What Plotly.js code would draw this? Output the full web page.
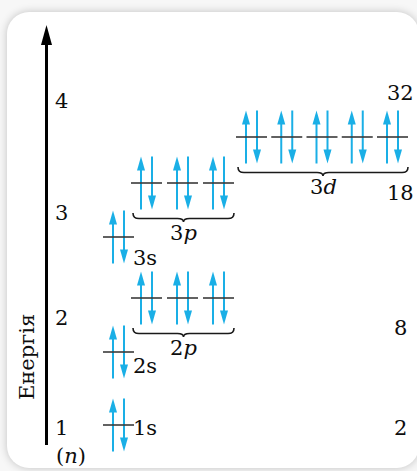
<!DOCTYPE html>
<html><head><meta charset="utf-8">
<script src="https://cdn.plot.ly/plotly-3.0.1.min.js"></script>
<style>
html,body{margin:0;padding:0;background:#f7f7f7;width:417px;height:471px;overflow:hidden}
#card{position:absolute;left:7px;top:12px;width:412px;height:456px;background:#fff;border-radius:22px;box-shadow:0 0 9px rgba(0,0,0,0.22)}
#chart{position:absolute;left:0;top:0;width:417px;height:471px}
</style></head><body>
<div id="card"></div><div id="chart"></div>
<script>
// ---- data (energy in arbitrary units) ----
const orbitals       = ['1s', '2s', '2p', '3s', '3p', '3d'];
const orbitalLabels  = ['1s', '2s', '2<i>p</i>', '3s', '3<i>p</i>', '3<i>d</i>'];
const orbitalEnergy  = [46, 119, 173, 234, 288, 334];
const orbitalBoxes   = [1, 1, 3, 1, 3, 5];
const electronsPerBox= [2, 2, 2, 2, 2, 2];
const shellN         = ['1', '2', '3', '4'];
const shellEnergy    = [43, 153, 258, 370];
const shellCapacity  = ['2', '8', '18', '32'];
const capacityEnergy = [43, 143, 278, 378];
const axisTitle      = 'Енергія';
const axisUnit       = '(<i>n</i>)';

// ---- layout / style config ----
const ARROW = '#1aafe6', LEVEL = '#3a3a3a', INK = '#0d0d0d';
const FONT = 'DejaVu Serif, Liberation Serif, serif';
const FS = 21;
const G = {
  boxW: 31, upDx: 10, downDx: 21, halfSpan: 26.5, headL: 14, headW: 4,
  colX0: {s: 103, p: 131, d: 236}, colStep: {s: 0, p: 36, d: 35.25},
  braceDy: 31, braceLabelDy: 50, sLabelX: 131, sLabelDy: [3, 14, 21],
  shellX: 61, capX: 400, axisX: 46.5, axisE0: 26, axisTip: 446, unitE: 15
};

const shapes = [], annotations = [];
const shaftX = [], shaftY = [], levelX = [], levelY = [];
let sIdx = 0;
orbitals.forEach((name, i) => {
  const kind = name[1];
  const E = orbitalEnergy[i];
  const x0s = G.colX0[kind];
  for (let k = 0; k < orbitalBoxes[i]; k++) {
    const x0 = x0s + k * G.colStep[kind];
    levelX.push(x0, x0 + G.boxW, null); levelY.push(E, E, null);
    if (electronsPerBox[i] >= 1) {
      const xu = x0 + G.upDx, tip = E + G.halfSpan;
      shaftX.push(xu, xu, null); shaftY.push(E - G.halfSpan, tip - G.headL + 2, null);
      shapes.push({type: 'path', xref: 'x', yref: 'y', xsizemode: 'pixel', ysizemode: 'pixel',
        xanchor: xu, yanchor: tip, path: `M0,0 L${-G.headW},${-G.headL} L${G.headW},${-G.headL} Z`,
        fillcolor: ARROW, line: {width: 0}});
    }
    if (electronsPerBox[i] >= 2) {
      const xd = x0 + G.downDx, tip = E - G.halfSpan;
      shaftX.push(xd, xd, null); shaftY.push(E + G.halfSpan, tip + G.headL - 2, null);
      shapes.push({type: 'path', xref: 'x', yref: 'y', xsizemode: 'pixel', ysizemode: 'pixel',
        xanchor: xd, yanchor: tip, path: `M0,0 L${-G.headW},${G.headL} L${G.headW},${G.headL} Z`,
        fillcolor: ARROW, line: {width: 0}});
    }
  }
  if (orbitalBoxes[i] > 1) {
    const xL = x0s + 2, xR = x0s + (orbitalBoxes[i] - 1) * G.colStep[kind] + G.boxW;
    const xc = (xL + xR) / 2, w = (xR - xL) / 2;
    const p = `M${-w},1 C${-w},-3.5 ${-w+2},-4.5 ${-w+6},-4.5 L-6,-4.5 C-2,-4.5 0,-5 0,-8 C0,-5 2,-4.5 6,-4.5 L${w-6},-4.5 C${w-2},-4.5 ${w},-3.5 ${w},1`;
    shapes.push({type: 'path', xref: 'x', yref: 'y', xsizemode: 'pixel', ysizemode: 'pixel',
      xanchor: xc, yanchor: E - G.braceDy, path: p, line: {color: '#1a1a1a', width: 1.6}});
    annotations.push({x: xc, y: E - G.braceLabelDy, xref: 'x', yref: 'y', text: orbitalLabels[i],
      showarrow: false, font: {family: FONT, size: FS, color: INK}});
  } else {
    annotations.push({x: G.sLabelX, y: E - G.sLabelDy[sIdx++], xref: 'x', yref: 'y', text: orbitalLabels[i],
      showarrow: false, xanchor: 'left', font: {family: FONT, size: FS, color: INK}});
  }
});

// energy axis arrow
shapes.push({type: 'line', xref: 'x', yref: 'y', x0: G.axisX, x1: G.axisX, y0: G.axisE0, y1: G.axisTip - 16,
  line: {color: '#000', width: 3}});
shapes.push({type: 'path', xref: 'x', yref: 'y', xsizemode: 'pixel', ysizemode: 'pixel',
  xanchor: G.axisX, yanchor: G.axisTip, path: 'M0,0 L-5.5,-20 L5.5,-20 Z', fillcolor: '#000', line: {width: 0}});

shellN.forEach((n, i) => annotations.push({x: G.shellX, y: shellEnergy[i], xref: 'x', yref: 'y', text: n,
  showarrow: false, font: {family: FONT, size: FS, color: INK}}));
shellCapacity.forEach((c, i) => annotations.push({x: G.capX, y: capacityEnergy[i], xref: 'x', yref: 'y', text: c,
  showarrow: false, font: {family: FONT, size: FS, color: INK}}));
annotations.push({x: 71, y: G.unitE, xref: 'x', yref: 'y', text: axisUnit, showarrow: false,
  font: {family: FONT, size: FS, color: INK}});
annotations.push({x: 27, y: 114, xref: 'x', yref: 'y', text: axisTitle, textangle: -90, showarrow: false,
  font: {family: FONT, size: FS, color: INK}});

const traces = [
  {x: shaftX, y: shaftY, mode: 'lines', line: {color: ARROW, width: 2}, hoverinfo: 'skip'},
  {x: levelX, y: levelY, mode: 'lines', line: {color: LEVEL, width: 1.6}, hoverinfo: 'skip'}
];
const layout = {
  width: 417, height: 471, margin: {l: 0, r: 0, t: 0, b: 0},
  paper_bgcolor: 'rgba(0,0,0,0)', plot_bgcolor: 'rgba(0,0,0,0)', showlegend: false,
  xaxis: {range: [0, 417], visible: false, fixedrange: true},
  yaxis: {range: [0, 471], visible: false, fixedrange: true},
  shapes, annotations
};
Plotly.newPlot('chart', traces, layout, {displayModeBar: false, staticPlot: true});
</script></body></html>
